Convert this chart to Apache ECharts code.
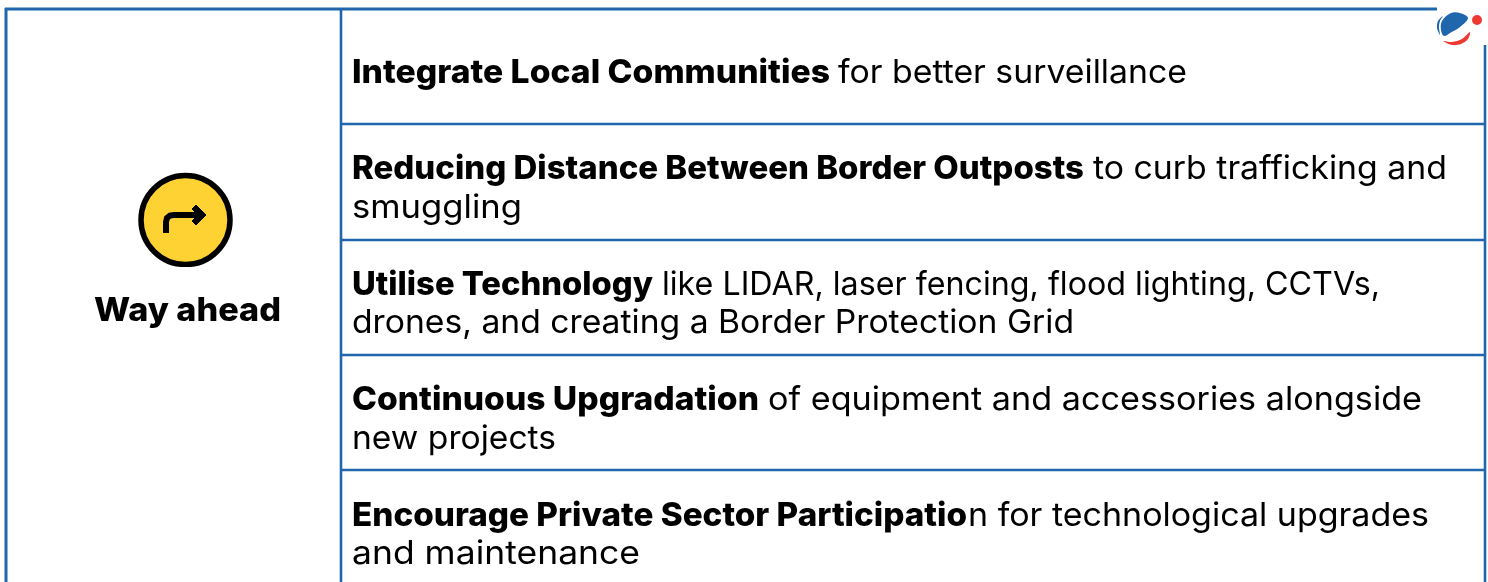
<!DOCTYPE html>
<html><head><meta charset="utf-8">
<style>html,body{margin:0;padding:0;background:#fff}#c{width:1488px;height:582px}</style>
<script src="https://cdn.jsdelivr.net/npm/echarts@6/dist/echarts.min.js"></script>
</head><body><div id="c"></div>
<script>
const heading = "Way ahead";
const boldSegments = ["Integrate Local Communities","Reducing Distance Between Border Outposts","Utilise Technology","Continuous Upgradation","Encourage Private Sector Participatio"];
const plainSegments = ["for better surveillance","to curb trafficking and","like LIDAR, laser fencing, flood lighting, CCTVs,","of equipment and accessories alongside","n for technological upgrades"];
const secondLines = ["","smuggling","drones, and creating a Border Protection Grid","new projects","and maintenance"];

const BLUE = "#1f66ad", FS = 33, FAMILY = "Inter, 'Noto Sans', sans-serif";
const boldBox = [[352,830],[352,1084],[352,653],[352,759],[352,967]];
const plainBox = [[838,1187],[1093,1447],[662,1380],[768,1422],[968,1429]];
const secondBox = [null,[352,522],[352,1074],[352,556],[352,640]];
const firstY = [73.5,169.5,285.5,400.5,516.5], secondY = [0,208.5,323.5,439.5,554.5];
const rowLines = [124,240,355,470];

const ctx = document.createElement("canvas").getContext("2d");
function seg(text, box, y, weight){
  const font = weight+" "+FS+"px "+FAMILY;
  ctx.font = font;
  const w = ctx.measureText(text).width;
  return {type:"text", x:box[0], y:y, scaleX:(box[1]-box[0])/w, z:5,
    style:{text:text, x:0, y:0, font:font, fill:"#000", textVerticalAlign:"middle", textAlign:"left"}};
}
const line = (x1,y1,x2,y2,lw)=>({type:"line", shape:{x1,y1,x2,y2}, z:2, style:{stroke:BLUE,lineWidth:lw||2.6}});
const els = [];
els.push(line(5,9,1437,9,3), line(6,8,6,582,3), line(341,9,341,582), line(1485,45,1485,582));
rowLines.forEach(y=>els.push(line(341,y,1485,y)));
boldSegments.forEach((t,i)=>{
  els.push(seg(t,boldBox[i],firstY[i],800));
  els.push(seg(plainSegments[i],plainBox[i],firstY[i],400));
  if(secondLines[i]) els.push(seg(secondLines[i],secondBox[i],secondY[i],400));
});
els.push(seg(heading,[94,281],311.5,800));

// yellow icon, cropped at its left and bottom as in the reference
els.push(
  {type:"circle", shape:{cx:185.5,cy:220,r:44.5}, style:{fill:"#ffd233",stroke:"#000",lineWidth:5.5}, z:4},
  {type:"rect", shape:{x:130,y:267,width:110,height:10}, style:{fill:"#fff"}, z:5},
  {type:"rect", shape:{x:128,y:170,width:10,height:100}, style:{fill:"#fff"}, z:5},
  {type:"polyline", shape:{points:[[166,233],[166,222],[167,218],[170,215.5],[174,215],[198,215]]}, z:6, style:{fill:"none",stroke:"#000",lineWidth:6}},
  {type:"polygon", shape:{points:[[196,205],[206,215],[196,225],[192,221],[198,215],[192,209]]}, z:6, style:{fill:"#000",stroke:"#000",lineWidth:1}}
);

// logo
els.push(
  {type:"polygon", z:6, shape:{smooth:0.35, points:[[1451,13],[1460,13],[1468,18],[1460,27],[1450,33],[1444,36],[1441,30],[1442,21]]}, style:{fill:BLUE}},
  {type:"polygon", z:6, shape:{smooth:0.3, points:[[1443,16],[1438,21],[1437,28],[1440,35],[1439,27],[1440,21]]}, style:{fill:BLUE}},
  {type:"polygon", z:6, shape:{smooth:0.3, points:[[1443,41],[1452,42],[1462,39],[1470,32],[1468,39],[1461,44],[1452,45]]}, style:{fill:"#ec3a33"}},
  {type:"circle", z:6, shape:{cx:1477,cy:20,r:5}, style:{fill:"#ec3a33"}}
);

const chart = echarts.init(document.getElementById("c"), null, {renderer:"canvas"});
chart.setOption({animation:false, backgroundColor:"#fff", graphic:{elements:els}});
</script></body></html>
